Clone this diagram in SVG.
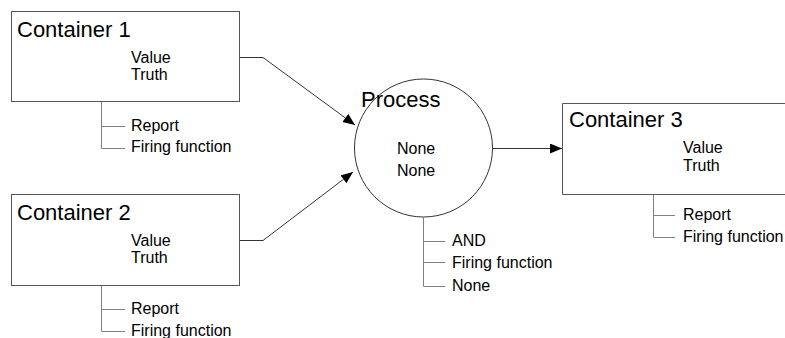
<svg xmlns="http://www.w3.org/2000/svg" width="785" height="338" viewBox="0 0 785 338">
  <style>
    text { font-family: "Liberation Sans", Arial, sans-serif; fill: #000; }
    .title { font-size: 22px; }
    .item { font-size: 16px; }
    .box { fill: #fff; stroke: #555; stroke-width: 1; }
    .tree { fill: none; stroke: #808080; stroke-width: 1; }
    .link { fill: none; stroke: #333; stroke-width: 1; }
  </style>
  <defs>
    <marker id="arrow" markerUnits="userSpaceOnUse" markerWidth="13" markerHeight="11" refX="12" refY="5" orient="auto">
      <path d="M0,0 L12,5 L0,10 z" fill="#000"/>
    </marker>
  </defs>
  <rect width="785" height="338" fill="#fff"/>

  <g id="connectors">
    <polyline class="link" points="239.5,57.5 263,57.5 355,125" marker-end="url(#arrow)"/>
    <polyline class="link" points="239.5,240.5 263,240.5 353,172" marker-end="url(#arrow)"/>
    <line class="link" x1="492" y1="148.5" x2="562" y2="148.5" marker-end="url(#arrow)"/>
  </g>

  <g id="container1">
    <rect class="box" x="11.5" y="11.5" width="228" height="90"/>
    <text class="title" x="17" y="37">Container 1</text>
    <text class="item" x="131" y="63">Value</text>
    <text class="item" x="131" y="80">Truth</text>
    <path class="tree" d="M101.5,102 V148.5 H125 M101.5,126.5 H125"/>
    <text class="item" x="131" y="131">Report</text>
    <text class="item" x="131" y="152">Firing function</text>
  </g>

  <g id="container2">
    <rect class="box" x="11.5" y="194.5" width="228" height="91"/>
    <text class="title" x="17" y="220">Container 2</text>
    <text class="item" x="131" y="246">Value</text>
    <text class="item" x="131" y="263">Truth</text>
    <path class="tree" d="M101.5,286 V331.5 H125 M101.5,309.5 H125"/>
    <text class="item" x="131" y="314">Report</text>
    <text class="item" x="131" y="336">Firing function</text>
  </g>

  <g id="process">
    <circle cx="423.5" cy="148" r="69" fill="#fff" stroke="#333" stroke-width="1"/>
    <text class="title" x="361" y="107">Process</text>
    <text class="item" x="397" y="154">None</text>
    <text class="item" x="397" y="176">None</text>
    <path class="tree" d="M423.5,217 V286.5 H445 M423.5,241.5 H445 M423.5,262.5 H445"/>
    <text class="item" x="452" y="246">AND</text>
    <text class="item" x="452" y="268">Firing function</text>
    <text class="item" x="452" y="291">None</text>
  </g>

  <g id="container3">
    <path class="box" d="M786,103.5 H562.5 V194.5 H786"/>
    <text class="title" x="569" y="127">Container 3</text>
    <text class="item" x="683" y="153">Value</text>
    <text class="item" x="683" y="171">Truth</text>
    <path class="tree" d="M653.5,195 V237.5 H675 M653.5,215.5 H675"/>
    <text class="item" x="683" y="220">Report</text>
    <text class="item" x="683" y="242">Firing function</text>
  </g>
</svg>
